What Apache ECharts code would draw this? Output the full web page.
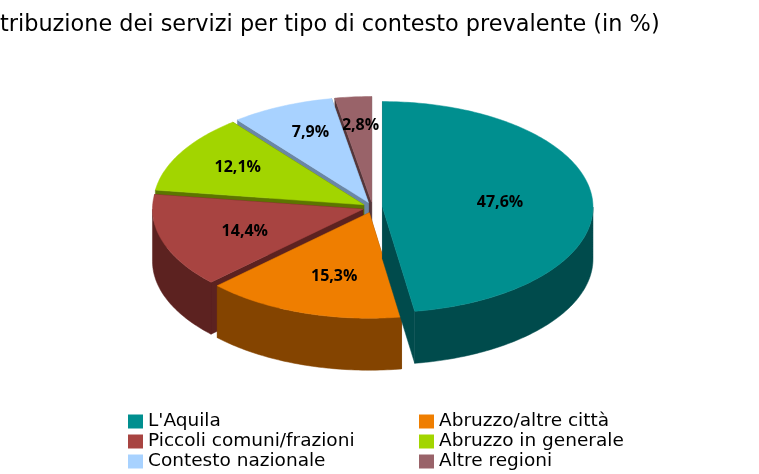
<!DOCTYPE html>
<html><head><meta charset="utf-8">
<style>html,body{margin:0;padding:0;background:#fff}#c{width:759px;height:474px}</style>
<script src="https://cdn.jsdelivr.net/npm/echarts@6/dist/echarts.min.js"></script>
</head><body><div id="c"></div>
<script>
const categories = ["L'Aquila", "Abruzzo/altre città", "Piccoli comuni/frazioni", "Abruzzo in generale", "Contesto nazionale", "Altre regioni"];
const values = [47.6, 15.3, 14.4, 12.1, 7.9, 2.8];
const titleText = "tribuzione dei servizi per tipo di contesto prevalente (in %)";

const topColors = ["#008F8F", "#EF7E00", "#A84441", "#A2D500", "#A8D2FF", "#996369"];
const sideColors = ["#004B4C", "#844400", "#5C2220", "#5C7500", "#6B87A5", "#54363A"];
const labelFractions = [[0.56, 0.56], [0.52, 0.64], [0.59, 0.68], [0.69, 0.72], [0.67, 0.73], [0.6, 0.73]];
const paintOrder = [5, 4, 3, 2, 1, 0];

const FONT = "'DejaVu Sans'";
const CX = 372.5, CY = 207.5, RX = 210.5, RY = 105.5, DEPTH = 52, EX = 10, EY = 5.5;
const total = values.reduce((a, b) => a + b, 0);
const toRad = d => d * Math.PI / 180;
const starts = values.map((_, i) => values.slice(0, i).reduce((a, b) => a + b, 0) / total * 360);

function pt(c, deg, dy) {
  return [c[0] + RX * Math.sin(toRad(deg)), c[1] - RY * Math.cos(toRad(deg)) + (dy || 0)];
}
function arc(c, a, b, dy) {
  const out = [];
  const n = Math.max(2, Math.ceil(Math.abs(b - a)));
  for (let k = 0; k <= n; k++) out.push(pt(c, a + (b - a) * k / n, dy));
  return out;
}
function poly(points, fill, extra) {
  return Object.assign({ type: 'polygon', shape: { points: points }, style: { fill: fill, stroke: fill, lineWidth: 0.5 } }, extra || {});
}
function renderSlice(i, api) {
  const v = api.value(0);
  const a = starts[i], b = a + v / total * 360, mid = (a + b) / 2;
  const c = [CX + EX * Math.sin(toRad(mid)), CY - EY * Math.cos(toRad(mid))];
  const side = sideColors[i], children = [];
  [a, b].forEach(t => {
    const p = pt(c, t);
    children.push(poly([c, p, [p[0], p[1] + DEPTH], [c[0], c[1] + DEPTH]], side));
  });
  const w0 = Math.max(a, 90), w1 = Math.min(b, 270);
  if (w1 > w0) {
    children.push(poly(arc(c, w0, w1).concat(arc(c, w1, w0, DEPTH)), side));
  }
  children.push(poly([c].concat(arc(c, a, b)), topColors[i]));
  const f = labelFractions[i];
  children.push({
    type: 'text', z2: 50,
    style: {
      text: v.toFixed(1).replace('.', ',') + '%',
      x: c[0] + f[0] * RX * Math.sin(toRad(mid)),
      y: c[1] - f[1] * RY * Math.cos(toRad(mid)),
      align: 'center', verticalAlign: 'middle',
      font: "bold 16px 'Open Sans'", fill: '#000'
    }
  });
  return { type: 'group', children: children };
}

const chart = echarts.init(document.getElementById('c'), null, { renderer: 'canvas' });
const legendBase = {
  orient: 'vertical', itemWidth: 15, itemHeight: 14, itemGap: 1, padding: 0,
  icon: 'rect', selectedMode: false,
  textStyle: { fontFamily: FONT, fontSize: 18.5, color: '#000' }
};
chart.setOption({
  animation: false,
  backgroundColor: '#fff',
  title: { text: titleText, left: 0, top: 14, padding: 0, textStyle: { fontFamily: FONT, fontSize: 22.4, fontWeight: 'normal', color: '#000' } },
  legend: [
    Object.assign({}, legendBase, { left: 128, top: 412, height: 62, data: [categories[0], categories[2], categories[4]] }),
    Object.assign({}, legendBase, { left: 419, top: 412, height: 62, data: [categories[1], categories[3], categories[5]] })
  ],
  series: paintOrder.map((i, order) => ({
    type: 'custom',
    name: categories[i],
    coordinateSystem: 'none',
    z: 2 + order,
    itemStyle: { color: topColors[i] },
    data: [[values[i]]],
    renderItem: (params, api) => renderSlice(i, api)
  }))
});
</script></body></html>
